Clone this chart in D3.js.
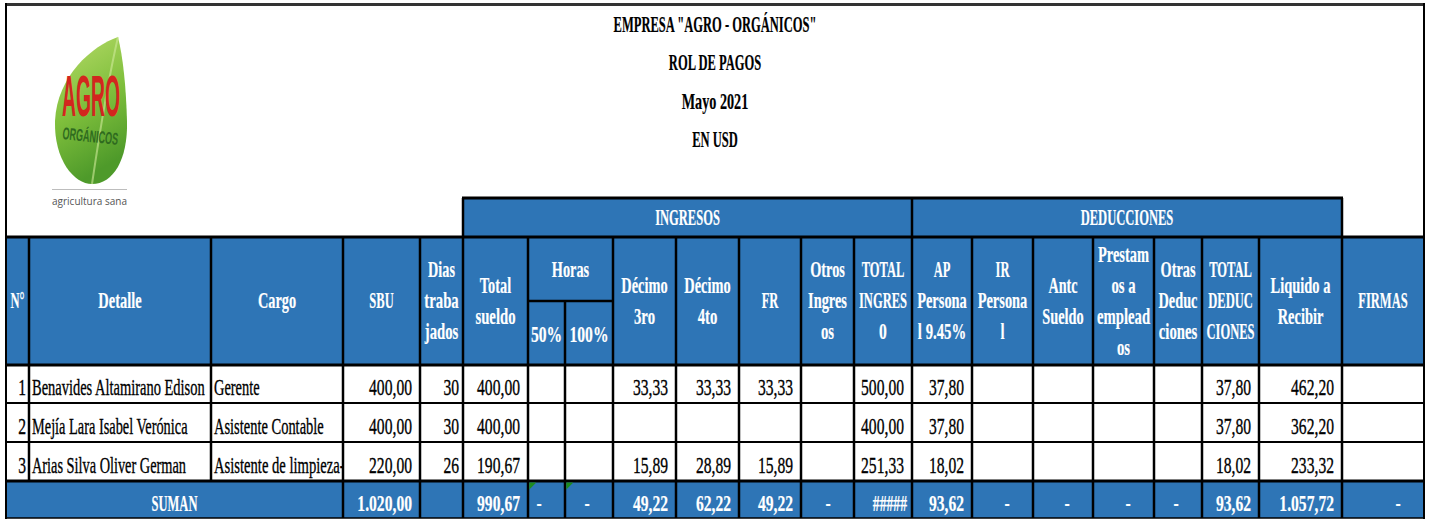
<!DOCTYPE html>
<html><head><meta charset="utf-8">
<script src="https://cdn.jsdelivr.net/npm/d3@7"></script>
<style>body{margin:0;background:#fff;overflow:hidden}</style>
</head><body><svg id="c" width="1432" height="520"></svg>
<script>
// ---------- DATA ----------
const titleLines = ['EMPRESA "AGRO - ORGÁNICOS"', 'ROL DE PAGOS', 'Mayo 2021', 'EN USD'];
const groupHeaders = ['INGRESOS', 'DEDUCCIONES'];
const columnHeaders = [['N°'], ['Detalle'], ['Cargo'], ['SBU'], ['Dias', 'traba', 'jados'], ['Total', 'sueldo'],
  ['50%'], ['100%'], ['Décimo', '3ro'], ['Décimo', '4to'], ['FR'], ['Otros', 'Ingres', 'os'], ['TOTAL', 'INGRES', '0'],
  ['AP', 'Persona', 'l 9.45%'], ['IR', 'Persona', 'l'], ['Antc', 'Sueldo'], ['Prestam', 'os a', 'emplead', 'os'],
  ['Otras', 'Deduc', 'ciones'], ['TOTAL', 'DEDUC', 'CIONES'], ['Liquido a', 'Recibir'], ['FIRMAS']];
const horasLabel = 'Horas';
const numero = [1, 2, 3];
const detalle = ['Benavides Altamirano Edison', 'Mejía Lara Isabel Verónica', 'Arias Silva Oliver German'];
const cargo = ['Gerente', 'Asistente Contable', 'Asistente de limpieza-'];
const sbu = [400.00, 400.00, 220.00];
const dias = [30, 30, 26];
const totalSueldo = [400.00, 400.00, 190.67];
const horas50 = [null, null, null];
const horas100 = [null, null, null];
const decimo3 = [33.33, null, 15.89];
const decimo4 = [33.33, null, 28.89];
const fondoReserva = [33.33, null, 15.89];
const otrosIngresos = [null, null, null];
const totalIngreso = [500.00, 400.00, 251.33];
const aportePersonal = [37.80, 37.80, 18.02];
const irPersonal = [null, null, null];
const anticipo = [null, null, null];
const prestamos = [null, null, null];
const otrasDeducciones = [null, null, null];
const totalDeducciones = [37.80, 37.80, 18.02];
const liquido = [462.20, 362.20, 233.32];
const firmas = [null, null, null];
const totalLabel = 'SUMAN';

// ---------- LAYOUT ----------
const colWidths = [23, 182, 132, 77, 43, 65, 37, 48, 63, 63, 62, 53, 58, 60, 61, 60, 61, 48, 57, 83, 82];
const cum = [0]; colWidths.forEach(w => cum.push(cum[cum.length - 1] + w));
const x = d3.scaleLinear().domain([0, cum[cum.length - 1]]).range([6, 1424]);
const E = cum.map(c => x(c)); // column edges
const Y = {gTop: 198, hTop: 237, hMid: 301, hBot: 365, rows: [365, 403, 442, 481], sBot: 518};
const BLUE = '#2E75B6';
const FONT = '"Liberation Serif", "Times New Roman", serif';
const FS = 24;

const loc = d3.formatLocale({decimal: ',', thousands: '.', grouping: [3], currency: ['', '']});
const fmt = loc.format(',.2f');

const svg = d3.select('#c');

function sx(t) {
  const letters = t.replace(/[^A-Za-zÀ-ÿ]/g, '');
  let s;
  if (!letters.length) s = 0.71;
  else {
    const up = letters.replace(/[^A-ZÀ-Þ]/g, '').length / letters.length;
    s = 0.67 - 0.1 * up;
  }
  return s * 22 / FS;
}
function txt(g, t, px, py, anchor, opts = {}) {
  const s = (opts.scale || sx(t));
  const fill = opts.fill || '#000';
  return g.append('text')
    .attr('transform', `translate(${px},${py}) scale(${s},1)`)
    .attr('text-anchor', anchor)
    .attr('font-family', FONT)
    .attr('font-size', opts.size || FS)
    .attr('font-weight', opts.bold ? 'bold' : 'normal')
    .attr('fill', fill)
    .attr('stroke', fill).attr('stroke-width', opts.bold ? 0.2 : 0.35)
    .text(t);
}

// ---------- LOGO ----------
const defs = svg.append('defs');
const lg = defs.append('linearGradient').attr('id', 'leaf').attr('x1', 0).attr('y1', 0).attr('x2', 0.3).attr('y2', 1);
lg.append('stop').attr('offset', 0).attr('stop-color', '#B9DC6A');
lg.append('stop').attr('offset', 0.55).attr('stop-color', '#7FBF3C');
lg.append('stop').attr('offset', 1).attr('stop-color', '#4E9A2A');
const logo = svg.append('g');
logo.append('path')
  .attr('d', 'M118,37 C92,46 57,76 55,121 C54,160 74,184 92,184 C113,184 128,160 127,121 C126,86 123,57 118,37 Z')
  .attr('fill', 'url(#leaf)');
logo.append('path')
  .attr('d', 'M118,37 C108,80 100,130 92,184')
  .attr('stroke', '#CFE99A').attr('stroke-width', 2).attr('fill', 'none').attr('opacity', 0.6);
logo.append('text').attr('x', 62).attr('y', 116)
  .attr('font-family', '"Liberation Sans Narrow", "Liberation Sans", sans-serif').attr('font-weight', 'bold')
  .attr('font-size', 58).attr('fill', '#D3261E').attr('textLength', 58).attr('lengthAdjust', 'spacingAndGlyphs')
  .text('AGRO');
logo.append('text').attr('x', 62).attr('y', 142)
  .attr('transform', 'rotate(6,90,140)')
  .attr('font-family', '"Liberation Sans Narrow", "Liberation Sans", sans-serif').attr('font-weight', 'bold')
  .attr('font-size', 17).attr('fill', '#2F6B1F').attr('textLength', 56).attr('lengthAdjust', 'spacingAndGlyphs')
  .text('ORGÁNICOS');
logo.append('line').attr('x1', 52).attr('x2', 127).attr('y1', 189.5).attr('y2', 189.5)
  .attr('stroke', '#BDBDBD').attr('stroke-width', 1);
logo.append('text').attr('x', 52).attr('y', 205)
  .attr('font-family', '"Open Sans", sans-serif').attr('font-size', 11).attr('fill', '#555')
  .attr('textLength', 75).attr('lengthAdjust', 'spacingAndGlyphs').text('agricultura sana');

// ---------- TITLE ----------
const gT = svg.append('g');
titleLines.forEach((t, i) => txt(gT, t, (E[0] + E[E.length - 1]) / 2, 32 + i * 38.3, 'middle', {bold: true}));

// ---------- BACKGROUNDS ----------
const bg = svg.append('g');
bg.append('rect').attr('x', E[5]).attr('y', Y.gTop).attr('width', E[13] - E[5]).attr('height', Y.hTop - Y.gTop).attr('fill', BLUE);
bg.append('rect').attr('x', E[13]).attr('y', Y.gTop).attr('width', E[20] - E[13]).attr('height', Y.hTop - Y.gTop).attr('fill', BLUE);
bg.append('rect').attr('x', E[0]).attr('y', Y.hTop).attr('width', E[21] - E[0]).attr('height', Y.hBot - Y.hTop).attr('fill', BLUE);
bg.append('rect').attr('x', E[0]).attr('y', Y.rows[3]).attr('width', E[21] - E[0]).attr('height', Y.sBot - Y.rows[3]).attr('fill', BLUE);

// ---------- HEADER TEXT ----------
const gH = svg.append('g');
txt(gH, groupHeaders[0], (E[5] + E[13]) / 2, 225, 'middle', {bold: true, fill: '#fff'});
txt(gH, groupHeaders[1], (E[13] + E[20]) / 2, 225, 'middle', {bold: true, fill: '#fff'});
txt(gH, horasLabel, (E[6] + E[8]) / 2, 277, 'middle', {bold: true, fill: '#fff'});
columnHeaders.forEach((lines, c) => {
  const cx = (E[c] + E[c + 1]) / 2;
  if (c === 6 || c === 7) {
    txt(gH, lines[0], cx, 342, 'middle', {bold: true, fill: '#fff'});
    return;
  }
  const n = lines.length;
  lines.forEach((l, i) => txt(gH, l, cx, 308 + (i - (n - 1) / 2) * 31, 'middle', {bold: true, fill: '#fff'}));
});

// ---------- BODY ----------
const cols = [numero, detalle, cargo, sbu, dias, totalSueldo, horas50, horas100, decimo3, decimo4, fondoReserva,
  otrosIngresos, totalIngreso, aportePersonal, irPersonal, anticipo, prestamos, otrasDeducciones, totalDeducciones, liquido, firmas];
defs.append('clipPath').attr('id', 'clipCargo').append('rect')
  .attr('x', E[2]).attr('y', Y.rows[0]).attr('width', E[3] - E[2] - 1).attr('height', Y.rows[3] - Y.rows[0]);
const gB = svg.append('g');
const gBc = svg.append('g').attr('clip-path', 'url(#clipCargo)');
numero.forEach((_, r) => {
  const by = Y.rows[r + 1] - 8;
  cols.forEach((arr, c) => {
    const v = arr[r];
    if (v === null || v === undefined) return;
    if (c === 0) txt(gB, String(v), E[1] - 3, by, 'end');
    else if (c === 1) txt(gB, v, E[1] + 3, by, 'start');
    else if (c === 2) txt(gBc, v, E[2] + 3, by, 'start');
    else if (c === 4) txt(gB, String(v), E[5] - 4, by, 'end');
    else txt(gB, fmt(v), E[c + 1] - 8, by, 'end');
  });
});

// ---------- TOTALS ----------
const gS = svg.append('g');
const sy = Y.sBot - 7;
txt(gS, totalLabel, (E[0] + E[3]) / 2, sy, 'middle', {bold: true, fill: '#fff'});
cols.forEach((arr, c) => {
  if (c < 3 || c === 4) return;
  const vals = arr.filter(v => v !== null);
  const s = d3.sum(vals);
  if (c === 12) { txt(gS, '#####', E[c + 1] - 5, sy, 'end', {bold: true, fill: '#fff', scale: 0.57}); return; }
  if (!s) { txt(gS, '-', E[c + 1] - 26, sy, 'middle', {bold: true, fill: '#fff'}); return; }
  txt(gS, fmt(s), E[c + 1] - 8, sy, 'end', {bold: true, fill: '#fff'});
});

// ---------- GRID LINES ----------
const gl = svg.append('g').attr('stroke', '#000').attr('fill', 'none');
function hl(x1, x2, y, w) { return gl.append('line').attr('x1', x1).attr('x2', x2).attr('y1', y).attr('y2', y).attr('stroke-width', w); }
function vl(xx, y1, y2, w) { return gl.append('line').attr('x1', xx).attr('x2', xx).attr('y1', y1).attr('y2', y2).attr('stroke-width', w); }
hl(E[5] - 1, E[20] + 1, Y.gTop, 3);
vl(E[5], Y.gTop, Y.hTop, 2.5); vl(E[13], Y.gTop, Y.hTop, 2.5); vl(E[20], Y.gTop, Y.hTop, 2.5);
hl(E[0], E[21], Y.hTop, 3);
E.slice(1, 20).forEach((e, i) => {
  const c = i + 1;
  if (c === 7) vl(e, Y.hMid, Y.hBot, 2.5);
  else vl(e, Y.hTop, Y.hBot, 2.5);
});
vl(E[20], Y.hTop, Y.sBot, 2.5);
hl(E[6], E[8], Y.hMid, 2.5);
hl(E[0], E[21], Y.hBot, 3);
hl(E[0], E[21], Y.rows[1], 2);
hl(E[0], E[21], Y.rows[2], 2);
hl(E[0], E[21], Y.rows[3], 3);
E.slice(1, 20).forEach((e, i) => {
  const c = i + 1;
  vl(e, Y.rows[0], Y.rows[3], 2.5);
  if (c !== 1 && c !== 2) vl(e, Y.rows[3], Y.sBot, 2.5);
});
hl(E[0], E[21], Y.sBot, 1.5);
hl(E[0] - 1, E[21] + 1, 4.5, 3).attr('stroke', '#333');
vl(E[0], 3, Y.sBot + 1, 2);
vl(E[21], 3, Y.sBot + 1, 2);

// green error indicators (on top of grid)
[6, 7].forEach(c => {
  svg.append('path').attr('d', `M${E[c] + 1.3},${Y.rows[3] + 1.5} h7 l-7,7 Z`).attr('fill', '#1E8B1E');
});
</script>
</body></html>
